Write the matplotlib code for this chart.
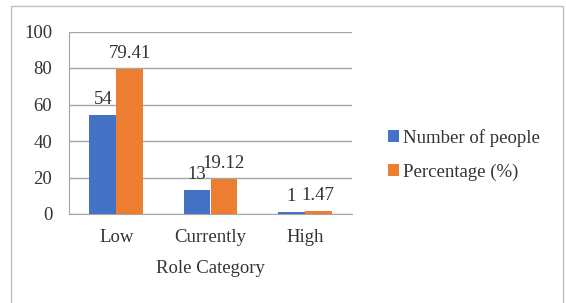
import matplotlib.pyplot as plt
import matplotlib.patches as mpatches
import numpy as np

categories = ['Low', 'Currently', 'High']
people = [54, 13, 1]
percent = [79.41, 19.12, 1.47]
people_labels = ['54', '13', '1']
percent_labels = ['79.41', '19.12', '1.47']

plt.rcParams['font.family'] = ['Liberation Serif', 'DejaVu Serif']
fs = 13.5
txt = '#333333'

W, H = 566, 303
fig = plt.figure(figsize=(W / 100, H / 100), dpi=100)

# outer frame (bottom edge falls outside the picture)
fig.patches.append(mpatches.Rectangle((11 / W, -0.1), (563 - 11) / W, 1.1 - 6 / H,
                                      transform=fig.transFigure, fill=False,
                                      edgecolor='#BFBFBF', linewidth=1))

ax = fig.add_axes([69 / W, 1 - 214 / H, (352 - 69) / W, (214 - 31.5) / H])

x = np.arange(len(categories))
w = 0.283
b1 = ax.bar(x - w / 2, people, w, color='#4472C4', label='Number of people', zorder=3)
b2 = ax.bar(x + w / 2, percent, w, color='#ED7D31', label='Percentage (%)', zorder=3)

for rect, lab in zip(b1, people_labels):
    ax.text(rect.get_x() + rect.get_width() / 2, rect.get_height() + 4, lab,
            ha='center', va='bottom', color=txt, fontsize=fs)
for rect, lab in zip(b2, percent_labels):
    ax.text(rect.get_x() + rect.get_width() / 2, rect.get_height() + 4, lab,
            ha='center', va='bottom', color=txt, fontsize=fs)

ax.set_xlim(-0.5, 2.5)
ax.set_ylim(0, 100)
ax.set_yticks(range(0, 101, 20))
ax.set_xticks(x)
ax.set_xticklabels(categories)
ax.grid(axis='y', color='#A6A6A6', linewidth=1, zorder=0)
ax.tick_params(length=0, colors=txt, labelsize=fs)
ax.tick_params(axis='y', pad=12)
ax.tick_params(axis='x', pad=11)
for s in ['top', 'right']:
    ax.spines[s].set_visible(False)
ax.spines['left'].set_color('#A6A6A6')
ax.spines['bottom'].set_color('#A6A6A6')
ax.set_xlabel('Role Category', color=txt, fontsize=fs, labelpad=10)

fig.legend(handles=[b1, b2], loc='center left', bbox_to_anchor=(388 / W, 1 - 155 / H),
           frameon=False, borderpad=0, borderaxespad=0,
           handlelength=0.6, handleheight=0.6, handletextpad=0.2,
           labelspacing=0.9, fontsize=fs, labelcolor=txt)

fig.savefig('out.png', dpi=100)
